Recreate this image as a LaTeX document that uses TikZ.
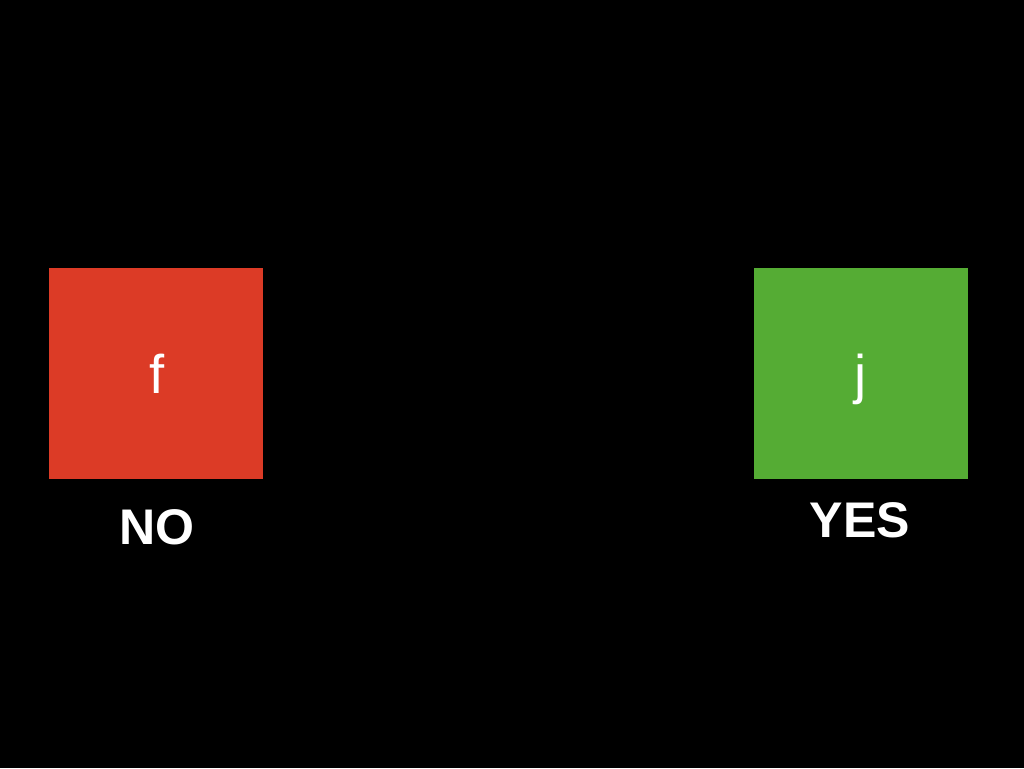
\documentclass[tikz,border=0pt]{standalone}
\usepackage{fontspec}
\setmainfont{Liberation Sans}
\usetikzlibrary{positioning}

\definecolor{nored}{HTML}{DC3B26}
\definecolor{yesgreen}{HTML}{55AC34}

\tikzset{
	answer/.style={inner sep=0pt, minimum width=4.28cm, minimum height=4.22cm},
	letter/.style={text=white, inner sep=0pt, anchor=base, font=\fontsize{31}{31}\selectfont},
	verdict/.style={text=white, inner sep=0pt, anchor=base, font=\bfseries\fontsize{28.5}{28.5}\selectfont}
}

\begin{document}
\begin{tikzpicture}[x=0.02cm,y=-0.02cm]
		\path[fill=black,use as bounding box] (0,0) rectangle (1024,768);
		\node[answer,fill=nored] (nobox) at (156,373.5) {};
		\node[answer,fill=yesgreen] (yesbox) at (861,373.5) {};
		\node[letter] (f) at (157,393) {f};
		\node[letter] (j) at (861,393) {j};
		\node[verdict] (no) at (157,544) {NO};				% left answer
		\node[verdict] (yes) at (860,537) {YES};
	\end{tikzpicture}
\end{document}
